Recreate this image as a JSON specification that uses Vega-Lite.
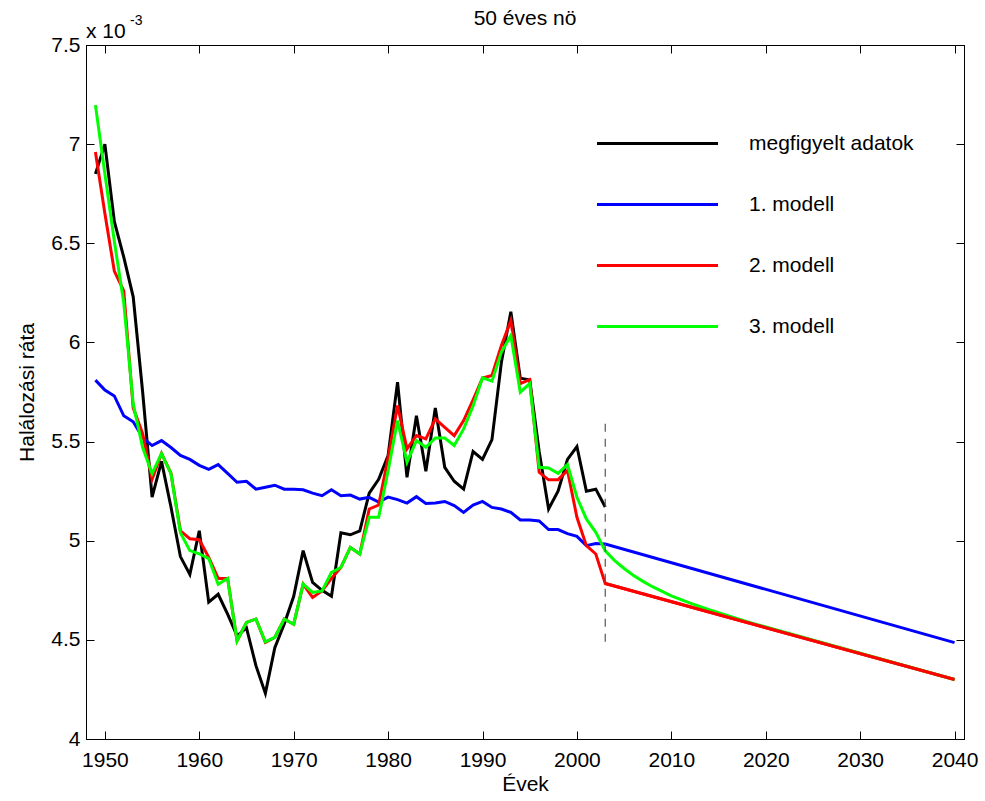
{
"$schema": "https://vega.github.io/schema/vega-lite/v6.json",
"width": 878,
"height": 694,
"autosize": {"type": "none"},
"padding": {"left": 86, "top": 45, "right": 21, "bottom": 62},
"background": "white",
"config": {
  "font": "Liberation Sans",
  "view": {"stroke": "black", "strokeWidth": 1},
  "axis": {"domainColor": "black", "tickColor": "black", "labelColor": "black", "titleColor": "black", "grid": false, "labelFontSize": 21, "titleFontSize": 21, "titleFontWeight": "normal", "tickSize": -8, "labelFont": "Liberation Sans", "titleFont": "Liberation Sans"}
},
"data": {"values": [
{"year":1949,"series":"megfigyelt adatok","value":6.85},{"year":1950,"series":"megfigyelt adatok","value":7.00},{"year":1951,"series":"megfigyelt adatok","value":6.61},{"year":1952,"series":"megfigyelt adatok","value":6.43},{"year":1953,"series":"megfigyelt adatok","value":6.23},{"year":1954,"series":"megfigyelt adatok","value":5.75},{"year":1955,"series":"megfigyelt adatok","value":5.22},{"year":1956,"series":"megfigyelt adatok","value":5.40},{"year":1957,"series":"megfigyelt adatok","value":5.17},{"year":1958,"series":"megfigyelt adatok","value":4.92},{"year":1959,"series":"megfigyelt adatok","value":4.83},{"year":1960,"series":"megfigyelt adatok","value":5.05},{"year":1961,"series":"megfigyelt adatok","value":4.69},{"year":1962,"series":"megfigyelt adatok","value":4.73},{"year":1963,"series":"megfigyelt adatok","value":4.63},{"year":1964,"series":"megfigyelt adatok","value":4.52},{"year":1965,"series":"megfigyelt adatok","value":4.56},{"year":1966,"series":"megfigyelt adatok","value":4.37},{"year":1967,"series":"megfigyelt adatok","value":4.23},{"year":1968,"series":"megfigyelt adatok","value":4.46},{"year":1969,"series":"megfigyelt adatok","value":4.58},{"year":1970,"series":"megfigyelt adatok","value":4.72},{"year":1971,"series":"megfigyelt adatok","value":4.95},{"year":1972,"series":"megfigyelt adatok","value":4.79},{"year":1973,"series":"megfigyelt adatok","value":4.75},{"year":1974,"series":"megfigyelt adatok","value":4.72},{"year":1975,"series":"megfigyelt adatok","value":5.04},{"year":1976,"series":"megfigyelt adatok","value":5.03},{"year":1977,"series":"megfigyelt adatok","value":5.05},{"year":1978,"series":"megfigyelt adatok","value":5.24},{"year":1979,"series":"megfigyelt adatok","value":5.31},{"year":1980,"series":"megfigyelt adatok","value":5.43},{"year":1981,"series":"megfigyelt adatok","value":5.80},{"year":1982,"series":"megfigyelt adatok","value":5.32},{"year":1983,"series":"megfigyelt adatok","value":5.63},{"year":1984,"series":"megfigyelt adatok","value":5.35},{"year":1985,"series":"megfigyelt adatok","value":5.67},{"year":1986,"series":"megfigyelt adatok","value":5.37},{"year":1987,"series":"megfigyelt adatok","value":5.30},{"year":1988,"series":"megfigyelt adatok","value":5.26},{"year":1989,"series":"megfigyelt adatok","value":5.45},{"year":1990,"series":"megfigyelt adatok","value":5.41},{"year":1991,"series":"megfigyelt adatok","value":5.51},{"year":1992,"series":"megfigyelt adatok","value":5.90},{"year":1993,"series":"megfigyelt adatok","value":6.155},{"year":1994,"series":"megfigyelt adatok","value":5.82},{"year":1995,"series":"megfigyelt adatok","value":5.81},{"year":1996,"series":"megfigyelt adatok","value":5.45},{"year":1997,"series":"megfigyelt adatok","value":5.16},{"year":1998,"series":"megfigyelt adatok","value":5.25},{"year":1999,"series":"megfigyelt adatok","value":5.41},{"year":2000,"series":"megfigyelt adatok","value":5.475},{"year":2001,"series":"megfigyelt adatok","value":5.25},{"year":2002,"series":"megfigyelt adatok","value":5.26},{"year":2003,"series":"megfigyelt adatok","value":5.17},
{"year":1949,"series":"1. modell","value":5.81},{"year":1950,"series":"1. modell","value":5.76},{"year":1951,"series":"1. modell","value":5.73},{"year":1952,"series":"1. modell","value":5.63},{"year":1953,"series":"1. modell","value":5.60},{"year":1954,"series":"1. modell","value":5.52},{"year":1955,"series":"1. modell","value":5.48},{"year":1956,"series":"1. modell","value":5.505},{"year":1957,"series":"1. modell","value":5.47},{"year":1958,"series":"1. modell","value":5.43},{"year":1959,"series":"1. modell","value":5.41},{"year":1960,"series":"1. modell","value":5.38},{"year":1961,"series":"1. modell","value":5.36},{"year":1962,"series":"1. modell","value":5.384},{"year":1963,"series":"1. modell","value":5.34},{"year":1964,"series":"1. modell","value":5.295},{"year":1965,"series":"1. modell","value":5.30},{"year":1966,"series":"1. modell","value":5.26},{"year":1967,"series":"1. modell","value":5.27},{"year":1968,"series":"1. modell","value":5.28},{"year":1969,"series":"1. modell","value":5.26},{"year":1970,"series":"1. modell","value":5.26},{"year":1971,"series":"1. modell","value":5.257},{"year":1972,"series":"1. modell","value":5.24},{"year":1973,"series":"1. modell","value":5.227},{"year":1974,"series":"1. modell","value":5.257},{"year":1975,"series":"1. modell","value":5.227},{"year":1976,"series":"1. modell","value":5.23},{"year":1977,"series":"1. modell","value":5.21},{"year":1978,"series":"1. modell","value":5.219},{"year":1979,"series":"1. modell","value":5.195},{"year":1980,"series":"1. modell","value":5.22},{"year":1981,"series":"1. modell","value":5.207},{"year":1982,"series":"1. modell","value":5.19},{"year":1983,"series":"1. modell","value":5.222},{"year":1984,"series":"1. modell","value":5.188},{"year":1985,"series":"1. modell","value":5.19},{"year":1986,"series":"1. modell","value":5.198},{"year":1987,"series":"1. modell","value":5.177},{"year":1988,"series":"1. modell","value":5.143},{"year":1989,"series":"1. modell","value":5.18},{"year":1990,"series":"1. modell","value":5.198},{"year":1991,"series":"1. modell","value":5.168},{"year":1992,"series":"1. modell","value":5.16},{"year":1993,"series":"1. modell","value":5.143},{"year":1994,"series":"1. modell","value":5.105},{"year":1995,"series":"1. modell","value":5.105},{"year":1996,"series":"1. modell","value":5.10},{"year":1997,"series":"1. modell","value":5.056},{"year":1998,"series":"1. modell","value":5.056},{"year":1999,"series":"1. modell","value":5.036},{"year":2000,"series":"1. modell","value":5.022},{"year":2001,"series":"1. modell","value":4.975},{"year":2002,"series":"1. modell","value":4.986},{"year":2003,"series":"1. modell","value":4.983},{"year":2040,"series":"1. modell","value":4.486},
{"year":1949,"series":"2. modell","value":6.96},{"year":1950,"series":"2. modell","value":6.65},{"year":1951,"series":"2. modell","value":6.36},{"year":1952,"series":"2. modell","value":6.26},{"year":1953,"series":"2. modell","value":5.67},{"year":1954,"series":"2. modell","value":5.54},{"year":1955,"series":"2. modell","value":5.31},{"year":1956,"series":"2. modell","value":5.44},{"year":1957,"series":"2. modell","value":5.34},{"year":1958,"series":"2. modell","value":5.05},{"year":1959,"series":"2. modell","value":5.01},{"year":1960,"series":"2. modell","value":5.005},{"year":1961,"series":"2. modell","value":4.916},{"year":1962,"series":"2. modell","value":4.81},{"year":1963,"series":"2. modell","value":4.81},{"year":1964,"series":"2. modell","value":4.495},{"year":1965,"series":"2. modell","value":4.588},{"year":1966,"series":"2. modell","value":4.605},{"year":1967,"series":"2. modell","value":4.487},{"year":1968,"series":"2. modell","value":4.512},{"year":1969,"series":"2. modell","value":4.605},{"year":1970,"series":"2. modell","value":4.579},{"year":1971,"series":"2. modell","value":4.781},{"year":1972,"series":"2. modell","value":4.714},{"year":1973,"series":"2. modell","value":4.747},{"year":1974,"series":"2. modell","value":4.81},{"year":1975,"series":"2. modell","value":4.865},{"year":1976,"series":"2. modell","value":4.966},{"year":1977,"series":"2. modell","value":4.933},{"year":1978,"series":"2. modell","value":5.16},{"year":1979,"series":"2. modell","value":5.18},{"year":1980,"series":"2. modell","value":5.42},{"year":1981,"series":"2. modell","value":5.682},{"year":1982,"series":"2. modell","value":5.463},{"year":1983,"series":"2. modell","value":5.53},{"year":1984,"series":"2. modell","value":5.513},{"year":1985,"series":"2. modell","value":5.614},{"year":1986,"series":"2. modell","value":5.572},{"year":1987,"series":"2. modell","value":5.53},{"year":1988,"series":"2. modell","value":5.606},{"year":1989,"series":"2. modell","value":5.71},{"year":1990,"series":"2. modell","value":5.82},{"year":1991,"series":"2. modell","value":5.833},{"year":1992,"series":"2. modell","value":5.985},{"year":1993,"series":"2. modell","value":6.111},{"year":1994,"series":"2. modell","value":5.792},{"year":1995,"series":"2. modell","value":5.812},{"year":1996,"series":"2. modell","value":5.345},{"year":1997,"series":"2. modell","value":5.307},{"year":1998,"series":"2. modell","value":5.308},{"year":1999,"series":"2. modell","value":5.354},{"year":2000,"series":"2. modell","value":5.118},{"year":2001,"series":"2. modell","value":4.975},{"year":2002,"series":"2. modell","value":4.933},{"year":2003,"series":"2. modell","value":4.784},{"year":2040,"series":"2. modell","value":4.30},
{"year":1949,"series":"3. modell","value":7.197},{"year":1950,"series":"3. modell","value":6.85},{"year":1951,"series":"3. modell","value":6.51},{"year":1952,"series":"3. modell","value":6.20},{"year":1953,"series":"3. modell","value":5.69},{"year":1954,"series":"3. modell","value":5.47},{"year":1955,"series":"3. modell","value":5.338},{"year":1956,"series":"3. modell","value":5.44},{"year":1957,"series":"3. modell","value":5.338},{"year":1958,"series":"3. modell","value":5.04},{"year":1959,"series":"3. modell","value":4.95},{"year":1960,"series":"3. modell","value":4.934},{"year":1961,"series":"3. modell","value":4.91},{"year":1962,"series":"3. modell","value":4.78},{"year":1963,"series":"3. modell","value":4.81},{"year":1964,"series":"3. modell","value":4.495},{"year":1965,"series":"3. modell","value":4.588},{"year":1966,"series":"3. modell","value":4.605},{"year":1967,"series":"3. modell","value":4.49},{"year":1968,"series":"3. modell","value":4.512},{"year":1969,"series":"3. modell","value":4.605},{"year":1970,"series":"3. modell","value":4.579},{"year":1971,"series":"3. modell","value":4.781},{"year":1972,"series":"3. modell","value":4.739},{"year":1973,"series":"3. modell","value":4.747},{"year":1974,"series":"3. modell","value":4.84},{"year":1975,"series":"3. modell","value":4.865},{"year":1976,"series":"3. modell","value":4.966},{"year":1977,"series":"3. modell","value":4.933},{"year":1978,"series":"3. modell","value":5.118},{"year":1979,"series":"3. modell","value":5.118},{"year":1980,"series":"3. modell","value":5.353},{"year":1981,"series":"3. modell","value":5.606},{"year":1982,"series":"3. modell","value":5.396},{"year":1983,"series":"3. modell","value":5.505},{"year":1984,"series":"3. modell","value":5.471},{"year":1985,"series":"3. modell","value":5.518},{"year":1986,"series":"3. modell","value":5.518},{"year":1987,"series":"3. modell","value":5.48},{"year":1988,"series":"3. modell","value":5.564},{"year":1989,"series":"3. modell","value":5.68},{"year":1990,"series":"3. modell","value":5.822},{"year":1991,"series":"3. modell","value":5.805},{"year":1992,"series":"3. modell","value":5.951},{"year":1993,"series":"3. modell","value":6.035},{"year":1994,"series":"3. modell","value":5.749},{"year":1995,"series":"3. modell","value":5.792},{"year":1996,"series":"3. modell","value":5.37},{"year":1997,"series":"3. modell","value":5.367},{"year":1998,"series":"3. modell","value":5.34},{"year":1999,"series":"3. modell","value":5.384},{"year":2000,"series":"3. modell","value":5.219},{"year":2001,"series":"3. modell","value":5.11},{"year":2002,"series":"3. modell","value":5.042},{"year":2003,"series":"3. modell","value":4.949},{"year":2004,"series":"3. modell","value":4.90},{"year":2005,"series":"3. modell","value":4.86},{"year":2006,"series":"3. modell","value":4.825},{"year":2007,"series":"3. modell","value":4.795},{"year":2008,"series":"3. modell","value":4.768},{"year":2010,"series":"3. modell","value":4.722},{"year":2012,"series":"3. modell","value":4.685},{"year":2014,"series":"3. modell","value":4.652},{"year":2016,"series":"3. modell","value":4.622},{"year":2018,"series":"3. modell","value":4.592},{"year":2020,"series":"3. modell","value":4.565},{"year":2040,"series":"3. modell","value":4.30}
]},
"layer": [
  {
    "mark": {"type": "line", "strokeWidth": 3},
    "encoding": {
      "x": {"field": "year", "type": "quantitative", "scale": {"domain": [1948, 2041], "nice": false, "zero": false},
            "axis": {"values": [1950,1960,1970,1980,1990,2000,2010,2020,2030,2040], "format": "d", "title": "Évek", "labelPadding": 18, "titlePadding": 3}},
      "y": {"field": "value", "type": "quantitative", "scale": {"domain": [4, 7.5], "nice": false, "zero": false},
            "axis": {"values": [4,4.5,5,5.5,6,6.5,7,7.5], "format": "~g", "title": "Halálozási ráta", "labelPadding": 14, "titlePadding": 13}},
      "color": {"field": "series", "type": "nominal",
                "scale": {"domain": ["megfigyelt adatok", "1. modell", "2. modell", "3. modell"], "range": ["#000000", "#0000ff", "#ff0000", "#00ff00"]},
                "legend": {"title": null, "orient": "none", "legendX": 521, "legendY": 48, "symbolType": "M-1.235,0H1.235", "symbolSize": 9604, "symbolStrokeWidth": 3, "symbolFillColor": "transparent", "labelFontSize": 21, "labelFont": "Liberation Sans", "labelColor": "black", "labelOffset": 41, "rowPadding": 0, "padding": 0, "labelLimit": 400}}
    }
  },
  {
    "transform": [{"filter": "datum.series == '2. modell' && datum.year >= 2003"}],
    "mark": {"type": "line", "strokeWidth": 3, "color": "#ff0000"},
    "encoding": {
      "x": {"field": "year", "type": "quantitative", "axis": null},
      "y": {"field": "value", "type": "quantitative", "axis": null}
    }
  },
  {
    "data": {"values": [{}]},
    "mark": {"type": "rule", "strokeDash": [8, 7], "color": "#555555", "strokeWidth": 1.2},
    "encoding": {
      "x": {"datum": 2003, "type": "quantitative", "axis": null},
      "y": {"datum": 4.49, "type": "quantitative", "axis": null},
      "y2": {"datum": 5.6}
    }
  },
  {
    "data": {"values": [{}]},
    "mark": {"type": "text", "text": "50 éves nö", "align": "center", "baseline": "alphabetic", "fontSize": 21, "font": "Liberation Sans", "color": "black", "dy": -20},
    "encoding": {
      "x": {"datum": 1994.5, "type": "quantitative", "axis": null},
      "y": {"datum": 7.5, "type": "quantitative", "axis": null}
    }
  },
  {
    "data": {"values": [{}]},
    "mark": {"type": "text", "text": "x 10", "align": "left", "baseline": "alphabetic", "fontSize": 21, "font": "Liberation Sans", "color": "black", "dy": -7},
    "encoding": {
      "x": {"datum": 1948, "type": "quantitative", "axis": null},
      "y": {"datum": 7.5, "type": "quantitative", "axis": null}
    }
  },
  {
    "data": {"values": [{}]},
    "mark": {"type": "text", "text": "-3", "align": "left", "baseline": "alphabetic", "fontSize": 14, "font": "Liberation Sans", "color": "black", "dx": 44, "dy": -20},
    "encoding": {
      "x": {"datum": 1948, "type": "quantitative", "axis": null},
      "y": {"datum": 7.5, "type": "quantitative", "axis": null}
    }
  },
  {
    "mark": {"type": "point", "opacity": 0},
    "encoding": {
      "x": {"field": "year", "type": "quantitative", "axis": {"orient": "top", "values": [1950,1960,1970,1980,1990,2000,2010,2020,2030,2040], "labels": false, "title": null}},
      "y": {"field": "value", "type": "quantitative", "axis": {"orient": "right", "values": [4,4.5,5,5.5,6,6.5,7,7.5], "labels": false, "title": null}}
    }
  }
],
"resolve": {"axis": {"x": "independent", "y": "independent"}}
}
